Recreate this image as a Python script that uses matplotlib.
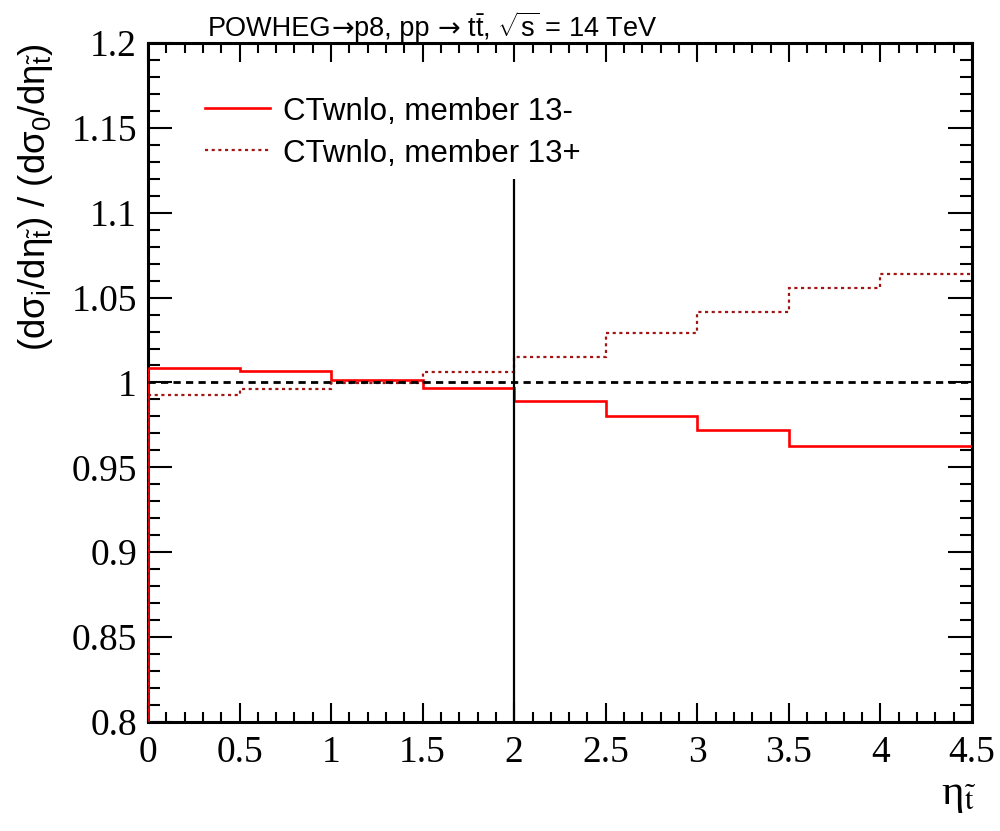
import numpy as np
import matplotlib
matplotlib.use("Agg")
import matplotlib.pyplot as plt
from matplotlib.lines import Line2D
from matplotlib.ticker import MultipleLocator
from matplotlib.offsetbox import TextArea, HPacker, AnchoredOffsetbox

# Bin edges in top-squark pseudorapidity and per-bin cross-section ratios
eta_edges = [0.0, 0.5, 1.0, 1.5, 2.0, 2.5, 3.0, 3.5, 4.0, 4.5]
ratio_minus = [1.0086, 1.0066, 1.0017, 0.9967, 0.9889, 0.9800, 0.9722, 0.9623, 0.9623]
ratio_plus = [0.9928, 0.9961, 0.9997, 1.0061, 1.0150, 1.0290, 1.0415, 1.0556, 1.0639]
label_minus = "CTwnlo, member 13-"
label_plus = "CTwnlo, member 13+"
x_ticks = [0, 0.5, 1, 1.5, 2, 2.5, 3, 3.5, 4, 4.5]
x_ticklabels = ["0", "0.5", "1", "1.5", "2", "2.5", "3", "3.5", "4", "4.5"]
y_ticks = [0.8, 0.85, 0.9, 0.95, 1.0, 1.05, 1.1, 1.15, 1.2]
y_ticklabels = ["0.8", "0.85", "0.9", "0.95", "1", "1.05", "1.1", "1.15", "1.2"]
cut_eta = 2.0
cut_top = 1.12
y_min, y_max = 0.8, 1.2

plt.rcParams["mathtext.fontset"] = "custom"
plt.rcParams["mathtext.rm"] = "Liberation Sans"
plt.rcParams["mathtext.it"] = "Liberation Sans:italic"
plt.rcParams["mathtext.bf"] = "Liberation Sans:bold"

W, H = 1000, 831
fig = plt.figure(figsize=(W / 100, H / 100), dpi=100)
ax = fig.add_axes([0.148, 0.1312, 0.824, 0.8171])

edges = np.array(eta_edges)
red = "#ff0000"
darkred = "#a31515"
solid_kw = dict(color=red, lw=1.9)
dot_kw = dict(color=darkred, lw=1.6, linestyle=(0, (1.4, 1.6)))

# step outlines (no drop at the right edge), with the rise from the baseline at eta = 0
ax.stairs(ratio_minus, edges, baseline=None, zorder=3, **solid_kw)
ax.vlines(edges[0], y_min, ratio_minus[0], zorder=3, **solid_kw)
ax.stairs(ratio_plus, edges, baseline=None, zorder=3, **dot_kw)
ax.vlines(edges[0], y_min, ratio_plus[0], zorder=3, **dot_kw)

# reference line at unity and the eta cut
ax.axhline(1.0, color="black", lw=2.0, linestyle=(0, (2.6, 1.9)), zorder=4)
ax.vlines(cut_eta, y_min, cut_top, color="black", lw=1.6, zorder=4)

# legend, laid out in figure pixels
for (ypix, kw, text) in [(108, solid_kw, label_minus), (150, dot_kw, label_plus)]:
    yf = 1 - ypix / H
    fig.add_artist(Line2D([205 / W, 270 / W], [yf, yf], transform=fig.transFigure, **kw))
    fig.text(283 / W, yf, text, ha="left", va="center_baseline",
             fontsize=22.5, family="Liberation Sans")

ax.set_xlim(edges[0], edges[-1])
ax.set_ylim(y_min, y_max)
ax.set_xticks(x_ticks)
ax.set_xticklabels(x_ticklabels)
ax.set_yticks(y_ticks)
ax.set_yticklabels(y_ticklabels)
ax.xaxis.set_minor_locator(MultipleLocator(0.1))
ax.yaxis.set_minor_locator(MultipleLocator(0.01))

for lab in ax.get_xticklabels() + ax.get_yticklabels():
    lab.set_family("Liberation Serif")
    lab.set_fontsize(27)

ax.tick_params(which="both", direction="in", top=True, right=True, width=1.5)
ax.tick_params(axis="x", which="major", length=14, pad=10)
ax.tick_params(axis="x", which="minor", length=7)
ax.tick_params(axis="y", which="major", length=17, pad=8)
ax.tick_params(axis="y", which="minor", length=8.5)
for sp in ax.spines.values():
    sp.set_linewidth(2.2)

fig.text(0.036, 1 - 44 / H,
         r"(dσ$_{\mathrm{i}}$/dη$_{\tilde{\mathrm{t}}}$) / (dσ$_{\mathrm{0}}$/dη$_{\tilde{\mathrm{t}}}$)",
         rotation=90, ha="center", va="top", fontsize=26.5, family="Liberation Sans")

fig.text(0.976, 1 - 804 / H, r"η$_{\tilde{\mathrm{t}}}$", ha="right", va="baseline",
         fontsize=31, family="Liberation Serif", math_fontfamily="stix")

# process label: text pieces in Liberation Sans, arrows in DejaVu Sans
title_size = 19.5
sans = dict(fontsize=title_size, family="Liberation Sans")
arrow = dict(fontsize=title_size, family="DejaVu Sans")
pieces = [
    ("POWHEG", sans), ("→", arrow), ("p8, pp ", sans), ("→", arrow),
    (r" t$\bar{\mathrm{t}}$, $\sqrt{\mathrm{s}}$ = 14 TeV", sans),
]
boxes = [TextArea(t, textprops=p) for t, p in pieces]
packed = HPacker(children=boxes, align="baseline", pad=0, sep=0)
anchored = AnchoredOffsetbox(loc="lower left", child=packed, pad=0, borderpad=0,
                             frameon=False, bbox_to_anchor=(0.208, 1 - 42 / H),
                             bbox_transform=fig.transFigure)
fig.add_artist(anchored)

fig.savefig("out.png", dpi=100)
